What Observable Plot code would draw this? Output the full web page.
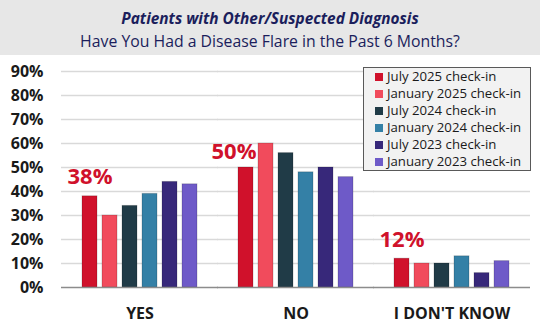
<!DOCTYPE html>
<html>
<head>
<meta charset="utf-8">
<script src="https://cdn.jsdelivr.net/npm/d3@7"></script>
<script src="https://cdn.jsdelivr.net/npm/@observablehq/plot@0.6"></script>
<style>
  html, body { margin: 0; padding: 0; background: #fff; }
  #wrap { position: relative; width: 540px; height: 331px; overflow: hidden; font-family: "Open Sans", sans-serif; }
  #head { height: 55px; background: #e7e7e7; text-align: center; color: #1b1e5c; box-sizing: border-box; padding-top: 8px; }
  #head .t1 { font-size: 15.4px; font-weight: bold; font-style: italic; line-height: 22px; }
  #head .t2 { font-size: 15.8px; line-height: 22px; }
  #chart { height: 276px; }
  #legend { position: absolute; left: 363px; top: 67px; width: 168px; box-sizing: border-box; border: 1.5px solid #595959; background: #f2f2f2; padding: 0 0 0 11px; }
  #legend .row { height: 17px; line-height: 17px; font-size: 13.2px; color: #1a1a1a; white-space: nowrap; }
  #legend .sw { display: inline-block; width: 8px; height: 8px; margin-right: 4px; vertical-align: 0px; }
</style>
</head>
<body>
<div id="wrap">
  <div id="head">
    <div class="t1">Patients with Other/Suspected Diagnosis</div>
    <div class="t2">Have You Had a Disease Flare in the Past 6 Months?</div>
  </div>
  <div id="chart"></div>
  <div id="legend"></div>
</div>
<script>
// ---- data ----
const categories = ["YES", "NO", "I DON'T KNOW"];
const seriesNames = [
  "July 2025 check-in",
  "January 2025 check-in",
  "July 2024 check-in",
  "January 2024 check-in",
  "July 2023 check-in",
  "January 2023 check-in"
];
const seriesColors = ["#d0112b", "#f14b5c", "#203b47", "#3480a6", "#37287a", "#6e5ac8"];
const july2025 = [38, 50, 12];
const jan2025  = [30, 60, 10];
const july2024 = [34, 56, 10];
const jan2024  = [39, 48, 13];
const july2023 = [44, 50, 6];
const jan2023  = [43, 46, 11];
const yTicks = [0, 10, 20, 30, 40, 50, 60, 70, 80, 90];

const seriesValues = [july2025, jan2025, july2024, jan2024, july2023, jan2023];
const rows = [];
categories.forEach((c, i) => {
  seriesNames.forEach((s, j) => rows.push({category: c, series: s, value: seriesValues[j][i]}));
});
const labelRows = categories.map((c, i) => ({category: c, series: seriesNames[0], value: july2025[i]}));

const labelStyle = {fill: "#d0112b", fontSize: 22, fontWeight: "bold", lineAnchor: "bottom", text: d => d.value + "%"};
const spanAll = {insetLeft: -19, insetRight: -19};

const chart = Plot.plot({
  width: 540,
  height: 276,
  marginTop: 16,
  marginBottom: 44,
  marginLeft: 60,
  marginRight: 10,
  style: {fontFamily: "Open Sans, sans-serif", background: "transparent", overflow: "visible"},
  fx: {domain: categories, paddingInner: 0.24, paddingOuter: 0.12, label: null, axis: null},
  x: {domain: seriesNames, paddingInner: 0.25, paddingOuter: 0, axis: null},
  y: {domain: [0, 90], label: null, axis: null},
  color: {domain: seriesNames, range: seriesColors},
  marks: [
    Plot.ruleY(yTicks.filter(t => t > 0), {stroke: "#d9d9d9", strokeWidth: 1.5, ...spanAll}),
    Plot.barY(rows, {fx: "category", x: "series", y: "value", fill: "series", stroke: "#000", strokeOpacity: 0.18, strokeWidth: 1}),
    Plot.ruleY([0], {stroke: "#8c8c8c", strokeWidth: 1.5, ...spanAll}),
    Plot.text(labelRows.filter(d => d.category !== "NO"), {fx: "category", x: "series", y: "value", dy: -12, ...labelStyle}),
    Plot.text(labelRows.filter(d => d.category === "NO"), {fx: "category", x: "series", y: "value", dy: -9, dx: -12, ...labelStyle}),
    Plot.axisY({ticks: yTicks, tickFormat: d => d + "%", tickSize: 0, tickPadding: 37, fontSize: 16, fontWeight: "bold", fill: "#1a1a1a", label: null}),
    Plot.axisFx({anchor: "bottom", tickSize: 0, tickPadding: 20, fontSize: 16, fontWeight: "bold", fill: "#1a1a1a", label: null})
  ]
});
document.getElementById("chart").appendChild(chart);

const legend = document.getElementById("legend");
seriesNames.forEach((s, i) => {
  const row = document.createElement("div");
  row.className = "row";
  const sw = document.createElement("span");
  sw.className = "sw";
  sw.style.background = seriesColors[i];
  row.appendChild(sw);
  row.appendChild(document.createTextNode(s));
  legend.appendChild(row);
});
</script>
</body>
</html>
